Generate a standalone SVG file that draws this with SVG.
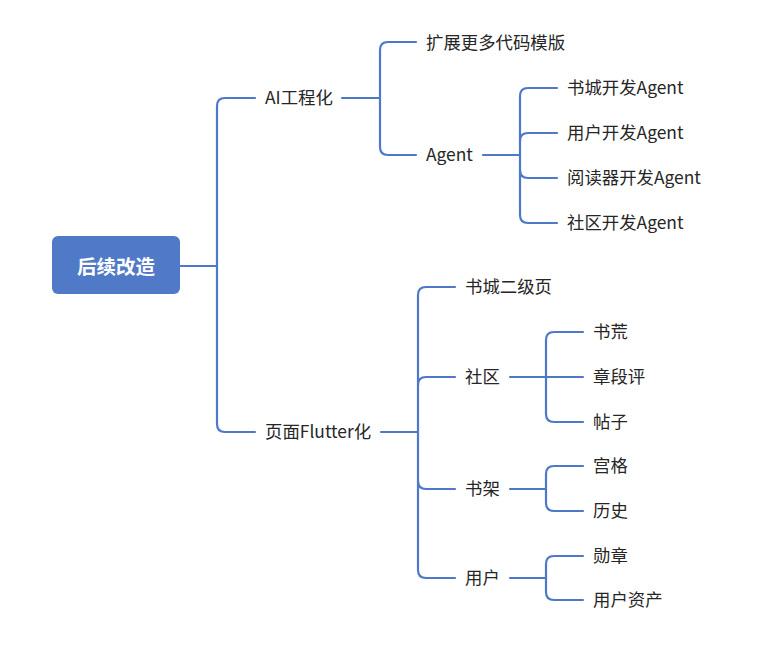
<svg xmlns="http://www.w3.org/2000/svg" width="761" height="657" viewBox="0 0 761 657">
<style>
.c{fill:none;stroke:#4E78C8;stroke-width:2.2;stroke-linecap:round;stroke-linejoin:round}
.t{font-family:"Noto Sans CJK SC","Noto Sans",sans-serif;font-size:17.4px;fill:#262626;dominant-baseline:central}
.r{font-family:"Noto Sans CJK SC","Noto Sans",sans-serif;font-size:19.5px;font-weight:bold;fill:#ffffff;dominant-baseline:central;text-anchor:middle}
</style>
<rect width="761" height="657" fill="#ffffff"/>
<g id="connectors">
<path class="c" d="M180 266 H217"/>
<path class="c" d="M255 98 H225 Q217 98 217 106 V424 Q217 432 225 432 H255"/>
<path class="c" d="M342 98 H380"/>
<path class="c" d="M416 42 H388 Q380 42 380 50 V147 Q380 155 388 155 H416"/>
<path class="c" d="M483 155 H520"/>
<path class="c" d="M557 88 H528 Q520 88 520 96 V215 Q520 223 528 223 H557"/>
<path class="c" d="M557 133 H528 Q520 133 520 141"/>
<path class="c" d="M557 178 H528 Q520 178 520 170"/>
<path class="c" d="M381 432 H418"/>
<path class="c" d="M455 287 H426 Q418 287 418 295 V570 Q418 578 426 578 H455"/>
<path class="c" d="M455 377 H426 Q418 377 418 385"/>
<path class="c" d="M455 489 H426 Q418 489 418 481"/>
<path class="c" d="M510 377 H583"/>
<path class="c" d="M583 332 H554 Q546 332 546 340 V414 Q546 422 554 422 H583"/>
<path class="c" d="M510 489 H546"/>
<path class="c" d="M583 466 H554 Q546 466 546 474 V503 Q546 511 554 511 H583"/>
<path class="c" d="M510 578 H546"/>
<path class="c" d="M583 556 H554 Q546 556 546 564 V592 Q546 600 554 600 H583"/>
</g>
<g id="root"><rect x="52" y="236" width="128" height="58" rx="6" fill="#5079C7"/><text class="r" x="116" y="265">后续改造</text></g>
<g id="ai"><text class="t" x="265" y="96.5">AI工程化</text></g>
<g id="tpl"><text class="t" x="426" y="41.5">扩展更多代码模版</text></g>
<g id="agent"><text class="t" x="426" y="153.5">Agent</text></g>
<g id="a1"><text class="t" x="567" y="86.5">书城开发Agent</text></g>
<g id="a2"><text class="t" x="567" y="131.5">用户开发Agent</text></g>
<g id="a3"><text class="t" x="567" y="176.5">阅读器开发Agent</text></g>
<g id="a4"><text class="t" x="567" y="221.5">社区开发Agent</text></g>
<g id="flutter"><text class="t" x="265" y="430.5">页面Flutter化</text></g>
<g id="f1"><text class="t" x="465" y="285.5">书城二级页</text></g>
<g id="f2"><text class="t" x="465" y="375.5">社区</text></g>
<g id="f3"><text class="t" x="465" y="487.5">书架</text></g>
<g id="f4"><text class="t" x="465" y="576.5">用户</text></g>
<g id="s1"><text class="t" x="593" y="330.5">书荒</text></g>
<g id="s2"><text class="t" x="593" y="375.5">章段评</text></g>
<g id="s3"><text class="t" x="593" y="420.5">帖子</text></g>
<g id="b1"><text class="t" x="593" y="464.5">宫格</text></g>
<g id="b2"><text class="t" x="593" y="509.5">历史</text></g>
<g id="u1"><text class="t" x="593" y="554.5">勋章</text></g>
<g id="u2"><text class="t" x="593" y="598.5">用户资产</text></g>
</svg>
